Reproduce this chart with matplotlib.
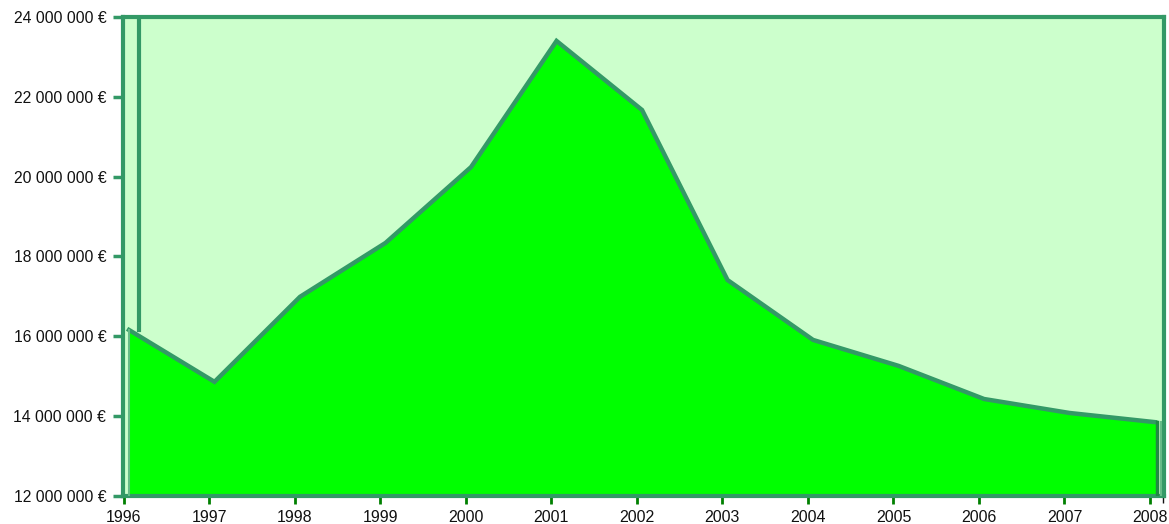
import matplotlib
matplotlib.use("Agg")
import matplotlib.pyplot as plt
from matplotlib.ticker import FuncFormatter

years = [1996, 1997, 1998, 1999, 2000, 2001, 2002, 2003, 2004, 2005, 2006, 2007, 2008]
values = [16.16e6, 14.86e6, 16.99e6, 18.34e6, 20.24e6, 23.40e6, 21.67e6,
          17.41e6, 15.91e6, 15.26e6, 14.43e6, 14.08e6, 13.85e6]
y_ticks = [12e6, 14e6, 16e6, 18e6, 20e6, 22e6, 24e6]

W, H = 1169, 524
fig = plt.figure(figsize=(W / 100, H / 100), dpi=100)
plt.rcParams['font.family'] = ['Liberation Sans', 'DejaVu Sans']
ax = fig.add_axes([123 / W, 1 - 496 / H, (1164 - 123) / W, (496 - 17) / H])

dark = '#339966'
ax.set_facecolor('#ccffcc')
shift = 0.06
xs = [y + shift for y in years]
ymin = y_ticks[0]
ax.fill_between(xs, values, ymin, color='#00ff00', zorder=2)
ax.plot(xs, values, color=dark, lw=3.2, zorder=3, solid_joinstyle='miter')
# edges of the area
ax.plot([xs[0], xs[0]], [ymin, values[0]], color='#66bb88', lw=1.5, zorder=3)
ax.plot([xs[-1] + 0.02, xs[-1] + 0.02], [ymin, values[-1]], color='#228844', lw=2.5, zorder=3)
ax.plot([xs[-1] + 0.07, xs[-1] + 0.07], [ymin, values[-1]], color='#66bb88', lw=1.5, zorder=3)
# side wall line near left
ax.plot([1996.18, 1996.18], [values[0], y_ticks[-1]], color=dark, lw=3, zorder=3)

ax.set_xlim(1995.99, 2008.164)
ax.set_ylim(y_ticks[0], y_ticks[-1])
ax.set_xticks(years)
ax.set_xticklabels([str(y) for y in years])
ax.set_xticks([2008.15], minor=True)
ax.set_yticks(y_ticks)

def fmt(v, pos):
    s = f"{int(round(v)):,}".replace(",", " ")
    return s + " €"

ax.yaxis.set_major_formatter(FuncFormatter(fmt))
for sp in ax.spines.values():
    sp.set_color(dark)
    sp.set_linewidth(3)
ax.tick_params(axis='x', colors='#008000', length=6, width=2, labelsize=11.5, pad=4, labelcolor='#111111')
ax.tick_params(axis='x', which='minor', colors='#111111', length=5, width=1)
ax.tick_params(axis='y', colors=dark, length=7, width=2.5, labelsize=11.3, pad=5, labelcolor='#111111')

fig.savefig('out.png', dpi=100)
